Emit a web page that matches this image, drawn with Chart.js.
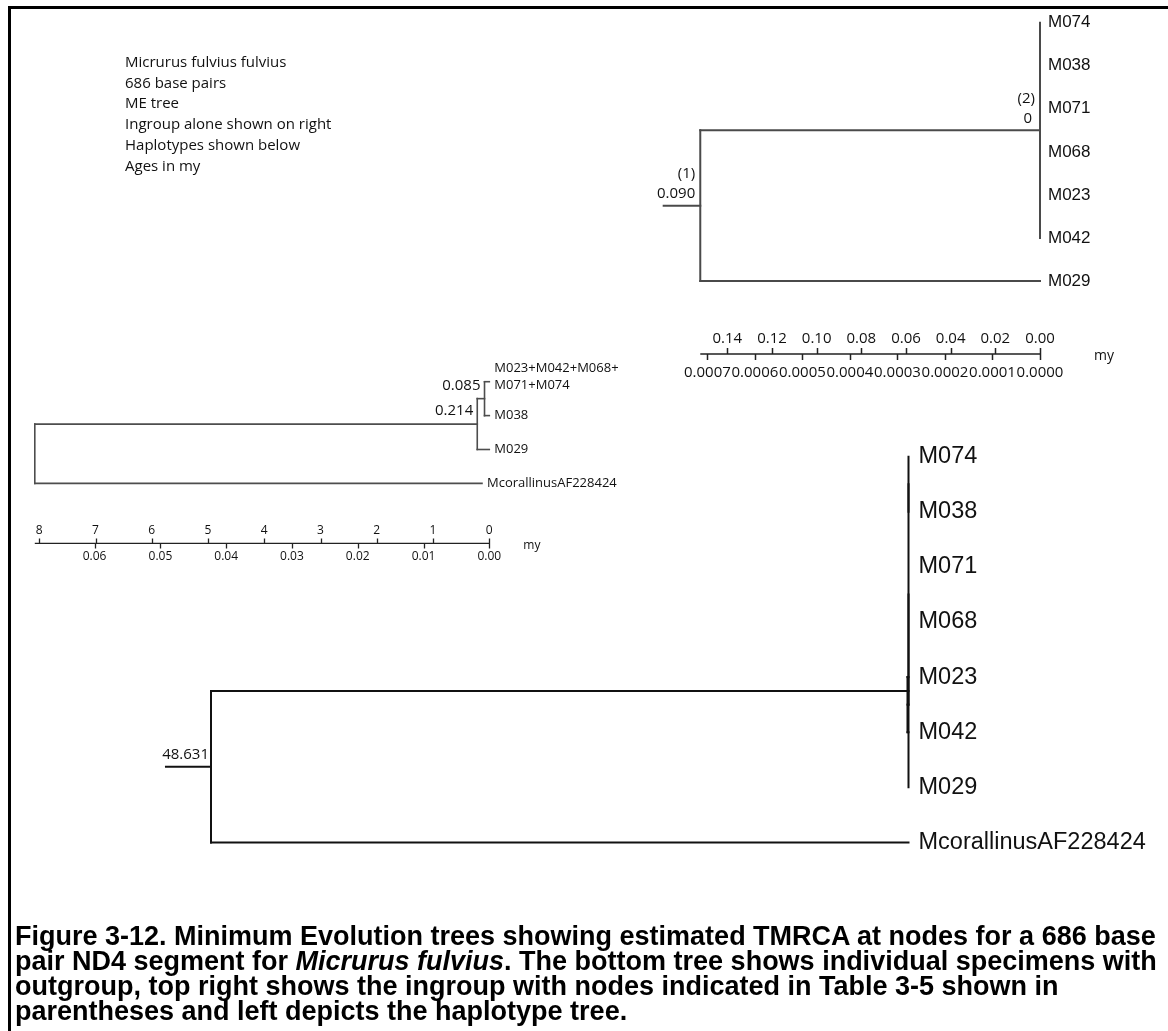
<!DOCTYPE html>
<html lang="en">
<head>
<meta charset="utf-8">
<title>Micrurus fulvius ND4 minimum evolution trees</title>
<script src="https://cdn.jsdelivr.net/npm/chart.js@4.4.1/dist/chart.umd.min.js"></script>
<style>
  html, body { margin: 0; padding: 0; background: #fff; }
  #page { position: relative; width: 1168px; height: 1031px; overflow: hidden; background: #fff; }
  #frame { position: absolute; left: 8px; top: 6px; right: -20px; bottom: -20px;
           border-left: 3px solid #000; border-top: 3px solid #000; }
  #chart { position: absolute; left: 0; top: 0; }
  #notes { position: absolute; left: 125px; top: 51px; font-family: 'Open Sans', sans-serif;
           font-size: 15px; line-height: 20.7px; color: #111; white-space: nowrap; }
  #caption { position: absolute; left: 15px; top: 924px; font-family: 'Liberation Sans', Arial, sans-serif;
             font-weight: bold; font-size: 27px; line-height: 25px; color: #000; white-space: nowrap; }
</style>
</head>
<body>
<div id="page">
  <div id="frame"></div>
  <canvas id="chart" width="1168" height="1031"></canvas>
  <div id="notes">
    <div>Micrurus fulvius fulvius</div>
    <div>686 base pairs</div>
    <div>ME tree</div>
    <div>Ingroup alone shown on right</div>
    <div>Haplotypes shown below</div>
    <div>Ages in my</div>
  </div>
  <div id="caption">
    Figure 3-12. Minimum Evolution trees showing estimated TMRCA at nodes for a 686 base<br>
    pair ND4 segment for <i>Micrurus fulvius</i>. The bottom tree shows individual specimens with<br>
    outgroup, top right shows the ingroup with nodes indicated in Table 3-5 shown in<br>
    parentheses and left depicts the haplotype tree.
  </div>
</div>
<script>
// ---------- Ingroup tree (top right); branch lengths in substitutions per site ----------
const ingroupTips = ['M074', 'M038', 'M071', 'M068', 'M023', 'M042', 'M029'];
const ingroupTipDepth = [0, 0, 0, 0, 0, 0, 0];
const ingroupNodeChildren = [['t0', 't1', 't2', 't3', 't4', 't5'], ['n0', 't6']];
const ingroupNodeDepth = [0, 0.000715];
const ingroupNodeTag = ['(2)', '(1)'];
const ingroupNodeAge = ['0', '0.090'];
const ingroupRootStub = 0.000077;
const ingroupAgeTicks = [0.14, 0.12, 0.10, 0.08, 0.06, 0.04, 0.02, 0.00];
const ingroupDistTicks = [0.0007, 0.0006, 0.0005, 0.0004, 0.0003, 0.0002, 0.0001, 0.0000];

// ---------- Haplotype tree (left); node heights in my ----------
const haploTips = [['M023+M042+M068+', 'M071+M074'], ['M038'], ['M029'], ['McorallinusAF228424']];
const haploTipDepth = [0, 0, 0, 0.13];
const haploNodeChildren = [['t0', 't1'], ['n0', 't2'], ['n1', 't3']];
const haploNodeDepth = [0.085, 0.214, 8.08];
const haploNodeAge = ['0.085', '0.214', ''];
const haploAgeTicks = [8, 7, 6, 5, 4, 3, 2, 1, 0];
const haploDistTicks = [0.06, 0.05, 0.04, 0.03, 0.02, 0.01, 0.00];

// ---------- Specimen tree with outgroup (bottom); node heights in my ----------
const specimenTips = ['M074', 'M038', 'M071', 'M068', 'M023', 'M042', 'M029', 'McorallinusAF228424'];
const specimenTipDepth = [0, 0, 0, 0, 0, 0, 0, 0];
const specimenNodeChildren = [['t0', 't1'], ['t4', 't5'], ['n0', 't2', 't3', 'n1'], ['n2', 't6'], ['n3', 't7']];
const specimenNodeDepth = [0, 0.07, 0, 0, 48.631];
const specimenNodeAge = ['', '', '', '', '48.631'];
const specimenRootStub = 3.14;

// ---------- layout helpers ----------
const W = 1168, H = 1031;

// horizontal scale running right-to-left: value 0 sits at zeroPx, refVal sits at refPx
function hScale(zeroPx, refVal, refPx) {
  const k = (zeroPx - refPx) / refVal;
  return { type: 'linear', axis: 'x', display: false, reverse: true, bounds: 'data',
           min: (zeroPx - W) / k, max: zeroPx / k };
}
// vertical scale for tip rows: row 0 at firstPx, one row every step pixels
function vScale(firstPx, step) {
  return { type: 'linear', axis: 'y', display: false, reverse: true, bounds: 'data',
           min: -firstPx / step, max: (H - firstPx) / step };
}

// rectangular cladogram: returns branch segments and node rows
function layoutTree(tipDepth, nodeChildren, nodeDepth, stub) {
  const nodeY = [];
  const segs = [];
  const at = ref => {
    const i = +ref.slice(1);
    return ref[0] === 't' ? { x: tipDepth[i], y: i } : { x: nodeDepth[i], y: nodeY[i] };
  };
  nodeChildren.forEach((kids, i) => {
    const pts = kids.map(at);
    const ys = pts.map(p => p.y);
    const lo = Math.min(...ys), hi = Math.max(...ys);
    nodeY[i] = (lo + hi) / 2;
    segs.push([nodeDepth[i], lo, nodeDepth[i], hi]);
    pts.forEach(p => { if (p.x !== nodeDepth[i]) segs.push([nodeDepth[i], p.y, p.x, p.y]); });
  });
  const r = nodeChildren.length - 1;
  if (stub) segs.push([nodeDepth[r] + stub, nodeY[r], nodeDepth[r], nodeY[r]]);
  return { segs, nodeY };
}

function branchSets(tree, xId, yId, color, width) {
  return tree.segs.map(([x1, y1, x2, y2]) => ({
    data: [{ x: x1, y: y1 }, { x: x2, y: y2 }],
    xAxisID: xId, yAxisID: yId, showLine: true, fill: false,
    borderColor: color, borderWidth: width, borderCapStyle: 'square',
    pointRadius: 0, pointHoverRadius: 0, tension: 0
  }));
}

const ingroupTree = layoutTree(ingroupTipDepth, ingroupNodeChildren, ingroupNodeDepth, ingroupRootStub);
const haploTree = layoutTree(haploTipDepth, haploNodeChildren, haploNodeDepth, 0);
const specimenTree = layoutTree(specimenTipDepth, specimenNodeChildren, specimenNodeDepth, specimenRootStub);

const SANS = "'Open Sans', 'Noto Sans', sans-serif";
const ARIAL = "'Liberation Sans', Arial, sans-serif";

// two-row scale bar: ages above the line, distances below; the line runs from startPx to value 0
function scaleBar(ctx, topScale, topTicks, topDec, botScale, botTicks, botDec, startPx, y, st) {
  const x1 = botScale.getPixelForValue(0);
  ctx.strokeStyle = '#222';
  ctx.lineWidth = st.lw;
  ctx.beginPath();
  ctx.moveTo(startPx, y); ctx.lineTo(x1, y);
  topTicks.forEach(v => { const p = Math.round(topScale.getPixelForValue(v)) + 0.5; ctx.moveTo(p, y); ctx.lineTo(p, y - st.tick); });
  botTicks.forEach(v => { const p = Math.round(botScale.getPixelForValue(v)) + 0.5; ctx.moveTo(p, y); ctx.lineTo(p, y + st.tick); });
  ctx.stroke();
  ctx.fillStyle = '#111';
  ctx.textAlign = 'center';
  ctx.textBaseline = 'middle';
  ctx.font = st.topFont;
  topTicks.forEach(v => ctx.fillText(v.toFixed(topDec), topScale.getPixelForValue(v), y - st.topGap));
  ctx.font = st.botFont;
  botTicks.forEach(v => ctx.fillText(v.toFixed(botDec), botScale.getPixelForValue(v), y + st.botGap));
  ctx.textAlign = 'left';
  ctx.font = st.unitFont;
  ctx.fillText('my', x1 + st.unitDx, y + 2);
}

const treeText = {
  id: 'treeText',
  afterDatasetsDraw(chart) {
    const { ctx, scales: s } = chart;
    ctx.save();
    ctx.textBaseline = 'middle';
    const put = (str, x, y, font, align) => { ctx.font = font; ctx.textAlign = align || 'left'; ctx.fillStyle = '#111'; ctx.fillText(str, x, y); };

    // ingroup tree labels
    ingroupTips.forEach((t, i) => put(t, s.xI.getPixelForValue(ingroupTipDepth[i]) + 8, s.yI.getPixelForValue(i), '17px ' + ARIAL));
    ingroupNodeTag.forEach((t, i) => {
      const x = s.xI.getPixelForValue(ingroupNodeDepth[i]) - 5;
      const y = s.yI.getPixelForValue(ingroupTree.nodeY[i]);
      put(t, x, y - 32, '15px ' + SANS, 'right');
      put(ingroupNodeAge[i], x - (i === 0 ? 3 : 0), y - 12, '15px ' + SANS, 'right');
    });
    const ingroupRoot = ingroupNodeDepth[ingroupNodeDepth.length - 1];
    scaleBar(ctx, s.xIm, ingroupAgeTicks, 2, s.xI, ingroupDistTicks, 4,
      s.xI.getPixelForValue(ingroupRoot),
      s.yI.getPixelForValue(ingroupTips.length - 1) + 73,
      { lw: 1.5, tick: 6, topGap: 15, botGap: 19, topFont: '15px ' + SANS, botFont: '15px ' + SANS, unitFont: '14px ' + SANS, unitDx: 54 });

    // haplotype tree labels
    haploTips.forEach((lines, i) => {
      const x = s.xH.getPixelForValue(haploTipDepth[i]) + 5;
      const y = s.yH.getPixelForValue(i);
      if (lines.length === 2) { put(lines[0], x, y - 13, '13px ' + SANS); put(lines[1], x, y + 4, '13px ' + SANS); }
      else put(lines[0], x, y, '13px ' + SANS);
    });
    haploNodeAge.forEach((t, i) => {
      if (!t) return;
      put(t, s.xH.getPixelForValue(haploNodeDepth[i]) - 4, s.yH.getPixelForValue(haploTree.nodeY[i]) - 13, '15px ' + SANS, 'right');
    });
    const haploRoot = haploNodeDepth[haploNodeDepth.length - 1];
    scaleBar(ctx, s.xH, haploAgeTicks, 0, s.xHs, haploDistTicks, 2,
      s.xH.getPixelForValue(haploRoot),
      s.yH.getPixelForValue(haploTips.length - 1) + 60,
      { lw: 1.3, tick: 5, topGap: 13, botGap: 13, topFont: '12px ' + SANS, botFont: '12px ' + SANS, unitFont: '12px ' + SANS, unitDx: 34 });

    // specimen tree labels
    specimenTips.forEach((t, i) => put(t, s.xS.getPixelForValue(specimenTipDepth[i]) + 10, s.yS.getPixelForValue(i), '23.5px ' + ARIAL));
    specimenNodeAge.forEach((t, i) => {
      if (!t) return;
      put(t, s.xS.getPixelForValue(specimenNodeDepth[i]) - 2, s.yS.getPixelForValue(specimenTree.nodeY[i]) - 12, '15px ' + SANS, 'right');
    });
    ctx.restore();
  }
};

function draw() {
  const cfgScales = {
    x: { display: false }, y: { display: false },
    xI: hScale(1040, 0.0007, 707.4),
    xIm: hScale(1040, 0.14, 727.3),
    yI: vScale(22.7, 43.05),
    xH: hScale(489.3, 8, 39.3),
    xHs: hScale(489.3, 0.06, 94.6),
    yH: vScale(381.7, 33.9),
    xS: hScale(908.5, 48.631, 211),
    yS: vScale(456.7, 55.1)
  };
  new Chart(document.getElementById('chart'), {
    type: 'scatter',
    data: {
      datasets: [
        ...branchSets(ingroupTree, 'xI', 'yI', '#4a4a4a', 2),
        ...branchSets(haploTree, 'xH', 'yH', '#4d4d4d', 1.6),
        ...branchSets(specimenTree, 'xS', 'yS', '#111', 2)
      ]
    },
    options: {
      responsive: false, animation: false, devicePixelRatio: 1, events: [],
      layout: { padding: 0 },
      plugins: { legend: { display: false }, tooltip: { enabled: false } },
      scales: cfgScales
    },
    plugins: [treeText]
  });
}

if (document.fonts && document.fonts.ready) document.fonts.ready.then(draw); else draw();
</script>
</body>
</html>
